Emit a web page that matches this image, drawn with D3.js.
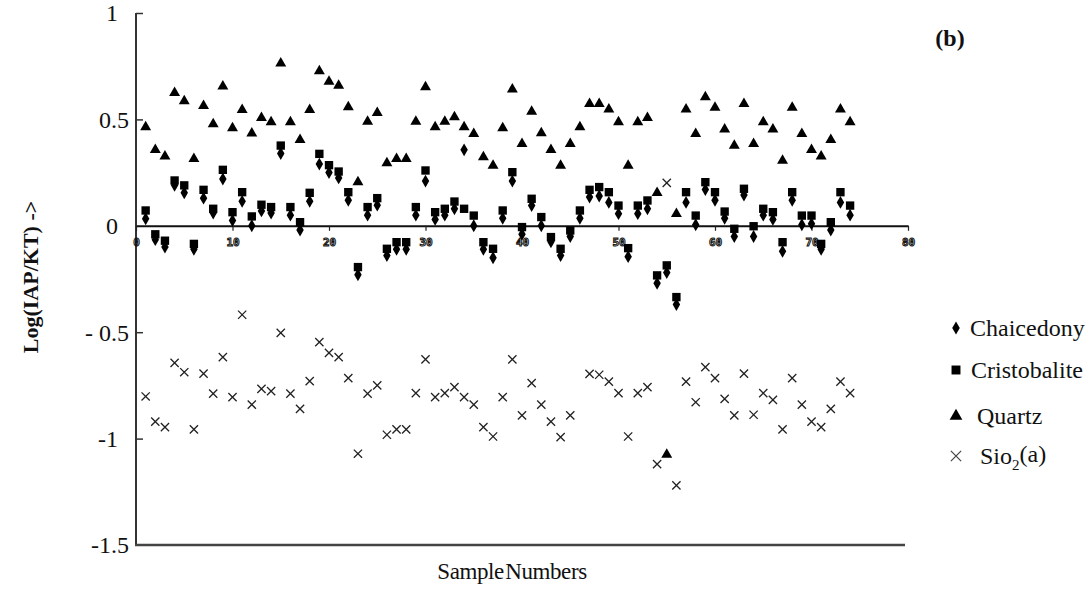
<!DOCTYPE html>
<html>
<head>
<meta charset="utf-8">
<script src="https://cdn.jsdelivr.net/npm/d3@7"></script>
<style>
  body { margin: 0; background: #fff; }
  svg { display: block; }
</style>
</head>
<body>
<svg id="chart" width="1092" height="589"></svg>
<script>
width = 1092;
height = 589;

// sample numbers 1..74
samples = d3.range(1, 75);

quartz = [0.464, 0.357, 0.327, 0.625, 0.586, 0.315, 0.564, 0.478, 0.655, 0.459,
  0.545, 0.434, 0.507, 0.487, 0.763, 0.487, 0.404, 0.545, 0.727, 0.678,
  0.659, 0.558, 0.205, 0.49, 0.531, 0.295, 0.315, 0.315, 0.49, 0.652,
  0.464, 0.49, 0.511, 0.464, 0.432, 0.323, 0.283, 0.459, 0.641, 0.385,
  0.537, 0.436, 0.357, 0.283, 0.385, 0.464, 0.573, 0.573, 0.547, 0.487,
  0.283, 0.487, 0.507, 0.155, -1.075, 0.056, 0.547, 0.432, 0.605, 0.555,
  0.453, 0.377, 0.573, 0.385, 0.487, 0.453, 0.307, 0.555, 0.432, 0.357,
  0.327, 0.404, 0.547, 0.487];

cristobalite = [0.072, -0.04, -0.07, 0.213, 0.19, -0.085, 0.169, 0.08, 0.263, 0.064,
  0.158, 0.044, 0.099, 0.088, 0.377, 0.088, 0.017, 0.155, 0.338, 0.285,
  0.255, 0.158, -0.194, 0.088, 0.13, -0.108, -0.077, -0.077, 0.088, 0.26,
  0.064, 0.08, 0.114, 0.08, 0.048, -0.077, -0.108, 0.072, 0.252, -0.006,
  0.127, 0.041, -0.053, -0.108, -0.022, 0.072, 0.169, 0.182, 0.158, 0.095,
  -0.105, 0.095, 0.119, -0.233, -0.186, -0.335, 0.158, 0.048, 0.205, 0.158,
  0.067, -0.014, 0.174, -0.002, 0.08, 0.064, -0.077, 0.158, 0.048, 0.048,
  -0.085, 0.017, 0.158, 0.095];

chalcedony = [0.033, -0.065, -0.10, 0.19, 0.155, -0.11, 0.13, 0.06, 0.22, 0.025,
  0.115, 0.0, 0.07, 0.06, 0.34, 0.05, -0.02, 0.115, 0.29, 0.25,
  0.225, 0.12, -0.23, 0.05, 0.097, -0.14, -0.11, -0.11, 0.05, 0.21,
  0.03, 0.05, 0.08, 0.357, 0.0, -0.11, -0.15, 0.035, 0.21, -0.04,
  0.095, 0.0, -0.075, -0.14, -0.05, 0.035, 0.135, 0.14, 0.11, 0.057,
  -0.145, 0.057, 0.08, -0.27, -0.22, -0.37, 0.11, 0.005, 0.17, 0.12,
  0.035, -0.05, 0.145, -0.05, 0.05, 0.03, -0.12, 0.12, 0.005, 0.01,
  -0.11, -0.02, 0.11, 0.05];

sio2a = [-0.802, -0.92, -0.946, -0.644, -0.688, -0.957, -0.695, -0.789, -0.617, -0.805,
  -0.418, -0.84, -0.766, -0.777, -0.503, -0.789, -0.86, -0.73, -0.547, -0.597,
  -0.617, -0.716, -1.071, -0.789, -0.75, -0.982, -0.957, -0.957, -0.786, -0.628,
  -0.805, -0.786, -0.758, -0.805, -0.84, -0.946, -0.99, -0.805, -0.628, -0.891,
  -0.739, -0.84, -0.92, -0.993, -0.891, null, -0.696, -0.70, -0.732, -0.786,
  -0.99, -0.786, -0.758, -1.12, 0.202, -1.22, -0.732, -0.829, -0.664, -0.716,
  -0.813, -0.891, -0.695, -0.888, -0.786, -0.818, -0.957, -0.716, -0.84, -0.92,
  -0.946, -0.86, -0.732, -0.786];

xTicks = [0, 10, 20, 30, 40, 50, 60, 70, 80];
yTicks = [1, 0.5, 0, -0.5, -1, -1.5];
yTickLabels = ['1', '0.5', '0', '- 0.5', '-1', '-1.5'];

legendNames = ['Chaicedony', 'Cristobalite', 'Quartz', 'Sio'];

serif = '"Liberation Serif", "Times New Roman", serif';

svg = d3.select('#chart');

x = d3.scaleLinear().domain([0, 80]).range([136, 908]);
y = d3.scaleLinear().domain([-1.5, 1]).range([545, 13]);

// left spine and bottom frame line
svg.append('line')
  .attr('x1', x(0)).attr('x2', x(0))
  .attr('y1', y(1)).attr('y2', y(-1.5))
  .attr('stroke', '#333').attr('stroke-width', 2);
svg.append('line')
  .attr('x1', x(0) - 1).attr('x2', 905)
  .attr('y1', y(-1.5)).attr('y2', y(-1.5))
  .attr('stroke', '#444').attr('stroke-width', 2.5);

// y axis: short ticks pointing inward, labels aligned on the decimal point
yAxis = d3.axisLeft(y)
  .tickValues(yTicks.filter(d => d != 0 && d != -1.5))
  .tickSize(-7)
  .tickFormat('');
yg = svg.append('g').attr('transform', `translate(${x(0)},0)`).call(yAxis);
yg.select('.domain').remove();
yg.selectAll('.tick line').attr('stroke', '#333').attr('stroke-width', 1.5);

svg.selectAll('.ylab')
  .data(yTicks)
  .enter().append('text')
  .attr('class', 'ylab')
  .attr('x', (d, i) => yTickLabels[i].indexOf('.') >= 0 ? 129 : 118)
  .attr('y', d => y(d))
  .attr('dy', '0.35em')
  .attr('text-anchor', 'end')
  .attr('font-family', serif)
  .attr('font-size', 24)
  .attr('fill', '#111')
  .text((d, i) => yTickLabels[i]);

// x axis drawn along y = 0
xAxis = d3.axisBottom(x)
  .tickValues(xTicks)
  .tickSize(5)
  .tickSizeOuter(0)
  .tickPadding(13)
  .tickFormat(d3.format('d'));
xg = svg.append('g').attr('transform', `translate(0,${y(0)})`).call(xAxis);
xg.select('.domain').attr('stroke', '#111').attr('stroke-width', 2);
xg.selectAll('.tick line').attr('stroke', '#222').attr('stroke-width', 1.2);
xg.selectAll('.tick text')
  .attr('font-family', '"DejaVu Sans Mono", monospace')
  .attr('font-size', 11)
  .attr('font-weight', 'bold')
  .attr('fill', 'none')
  .attr('stroke', '#111')
  .attr('stroke-width', 1)
  .attr('dy', '0.2em');

// axis titles
svg.append('text')
  .attr('transform', 'translate(38,277) rotate(-90)')
  .attr('text-anchor', 'middle')
  .attr('font-family', serif)
  .attr('font-weight', 'bold')
  .attr('font-size', 22)
  .attr('fill', '#111')
  .text('Log(IAP/KT) ->');

svg.append('text')
  .attr('x', 512).attr('y', 579)
  .attr('text-anchor', 'middle')
  .attr('font-family', serif)
  .attr('font-size', 23)
  .attr('letter-spacing', -0.4)
  .attr('word-spacing', -4)
  .attr('fill', '#111')
  .text('Sample Numbers');

svg.append('text')
  .attr('x', 950).attr('y', 46)
  .attr('text-anchor', 'middle')
  .attr('font-family', serif)
  .attr('font-weight', 'bold')
  .attr('font-size', 24)
  .attr('fill', '#111')
  .text('(b)');

// marker shapes
diamondPath = d3.symbol().type(d3.symbolDiamond).size(48)();
squarePath = d3.symbol().type(d3.symbolSquare).size(70)();
trianglePath = d3.symbol().type(d3.symbolTriangle).size(52)();
crossPath = d3.symbol().type(d3.symbolTimes).size(46)();

function drawSeries(values, path, filled){
  let pts = samples.map((s, i) => ({s: s, v: values[i]})).filter(d => d.v != null);
  let sel = svg.append('g').selectAll('path')
    .data(pts)
    .enter().append('path')
    .attr('d', path)
    .attr('transform', d => `translate(${x(d.s)},${y(d.v)})`);
  if(filled)
    sel.attr('fill', '#000');
  else
    sel.attr('fill', 'none').attr('stroke', '#222').attr('stroke-width', 1.3);
}

drawSeries(sio2a, crossPath, false);
drawSeries(chalcedony, diamondPath, true);
drawSeries(cristobalite, squarePath, true);
drawSeries(quartz, trianglePath, true);

// legend
legendY = [328, 370, 416, 456];
legendX = [970, 971, 977, 980];
legendTypes = [d3.symbolDiamond, d3.symbolSquare, d3.symbolTriangle, d3.symbolTimes];
legendSizes = [50, 80, 70, 70];

for(let i = 0; i < legendNames.length; i++){
  let p = svg.append('path')
    .attr('d', d3.symbol().type(legendTypes[i]).size(legendSizes[i])())
    .attr('transform', `translate(956,${legendY[i]})`);
  if(i == 3)
    p.attr('fill', 'none').attr('stroke', '#444').attr('stroke-width', 1.2);
  else
    p.attr('fill', '#000');

  let t = svg.append('text')
    .attr('x', legendX[i]).attr('y', legendY[i])
    .attr('dy', '0.35em')
    .attr('font-family', serif)
    .attr('font-size', 24)
    .attr('fill', '#111')
    .text(legendNames[i]);
  if(i == 3){
    t.append('tspan').attr('font-size', 15).attr('dy', '0.35em').text('2');
    t.append('tspan').attr('dy', '-0.3em').text('(a)');
  }
}
</script>
</body>
</html>
